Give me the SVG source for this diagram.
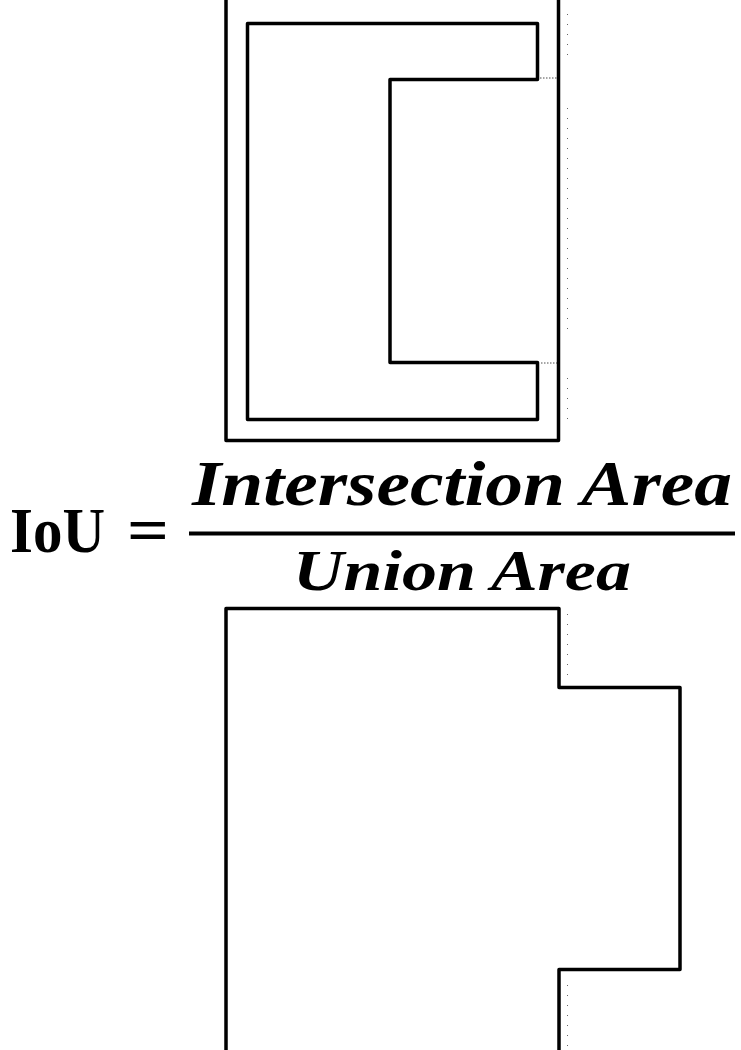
<svg xmlns="http://www.w3.org/2000/svg" width="741" height="1050" viewBox="0 0 741 1050">
<style>
.ln{fill:none;stroke:#000;stroke-width:3.5;stroke-linejoin:round}
.dot{fill:none;stroke:#000;stroke-width:1;stroke-dasharray:1 9;opacity:0.6}
.dot2{fill:none;stroke:#000;stroke-width:1;stroke-dasharray:1.5 1.5;opacity:0.7}
.it{font-family:"Liberation Serif",serif;font-weight:bold;font-style:italic;fill:#000}
.rm{font-family:"Liberation Serif",serif;font-weight:bold;fill:#000}
</style>
<rect width="741" height="1050" fill="#fff"/>
<g id="outer-box">
<path class="ln" d="M226,-5 V440.5 H558.5 V-5"/>
</g>
<g id="intersection-shape">
<path class="ln" d="M247.5,23.5 H537.5 V79.5 H390 V362.5 H537.5 V419.5 H247.5 Z"/>
<path class="dot2" d="M540,78 H557 M541,363 H557"/>
<path class="dot" d="M567.5,14 V62 M567.5,108 V332 M567.5,378 V426"/>
</g>
<g id="formula">
<text class="rm" x="10" y="552" font-size="63" textLength="95" lengthAdjust="spacingAndGlyphs">IoU</text>
<text class="rm" x="127" y="552" font-size="63" textLength="42" lengthAdjust="spacingAndGlyphs">=</text>
<line x1="189" y1="533.5" x2="735" y2="533.5" stroke="#000" stroke-width="4"/>
<text class="it" x="192" y="505" font-size="63" textLength="540" lengthAdjust="spacingAndGlyphs">Intersection Area</text>
<text class="it" x="293" y="590" font-size="57" textLength="338" lengthAdjust="spacingAndGlyphs">Union Area</text>
</g>
<g id="union-shape">
<path class="ln" d="M226,1055 V608.5 H559 V687.5 H680 V969.5 H559 V1055"/>
<path class="dot" d="M567.5,614 V680 M567.5,985 V1050"/>
</g>
</svg>
